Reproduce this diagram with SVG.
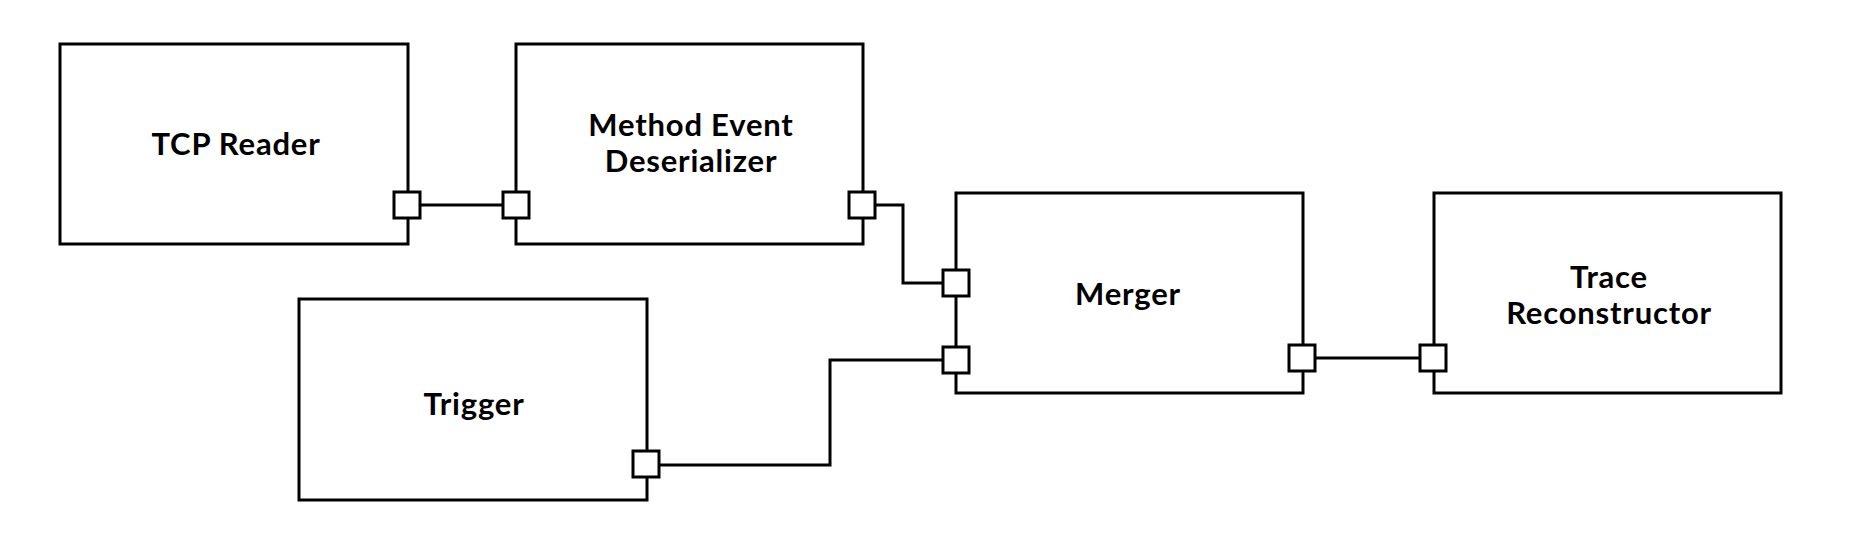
<svg xmlns="http://www.w3.org/2000/svg" width="1874" height="550" viewBox="0 0 1874 550">
<style>
.box{fill:#fff;stroke:#000;stroke-width:3}
.port{fill:#fff;stroke:#000;stroke-width:3}
.conn{fill:none;stroke:#000;stroke-width:3}
.lbl{font-family:Lato,"Liberation Sans",sans-serif;font-weight:700;font-size:31px;letter-spacing:0.8px;fill:#000;text-anchor:middle}
</style>
<rect width="1874" height="550" fill="#fff"/>
<g id="connectors">
<path class="conn" d="M407,205 H516"/>
<path class="conn" d="M862,205 H903 V283 H956"/>
<path class="conn" d="M646,465 H830 V360 H956"/>
<path class="conn" d="M1302,358 H1433"/>
</g>
<g id="tcp-reader">
<rect class="box" x="60" y="44" width="348" height="200"/>
<text class="lbl" x="236" y="155">TCP Reader</text>
<rect class="port" x="394" y="192" width="26" height="26"/>
</g>
<g id="method-event-deserializer">
<rect class="box" x="516" y="44" width="347" height="200"/>
<text class="lbl" x="691" y="136">Method Event</text>
<text class="lbl" x="691" y="172">Deserializer</text>
<rect class="port" x="503" y="192" width="26" height="26"/>
<rect class="port" x="849" y="192" width="26" height="26"/>
</g>
<g id="trigger">
<rect class="box" x="299" y="299" width="348" height="201"/>
<text class="lbl" x="474" y="415">Trigger</text>
<rect class="port" x="633" y="451" width="26" height="26"/>
</g>
<g id="merger">
<rect class="box" x="956" y="193" width="347" height="200"/>
<text class="lbl" x="1128" y="305">Merger</text>
<rect class="port" x="943" y="270" width="26" height="26"/>
<rect class="port" x="943" y="347" width="26" height="26"/>
<rect class="port" x="1289" y="345" width="26" height="26"/>
</g>
<g id="trace-reconstructor">
<rect class="box" x="1434" y="193" width="347" height="200"/>
<text class="lbl" x="1609" y="288">Trace</text>
<text class="lbl" x="1609" y="324">Reconstructor</text>
<rect class="port" x="1420" y="345" width="26" height="26"/>
</g>
</svg>
